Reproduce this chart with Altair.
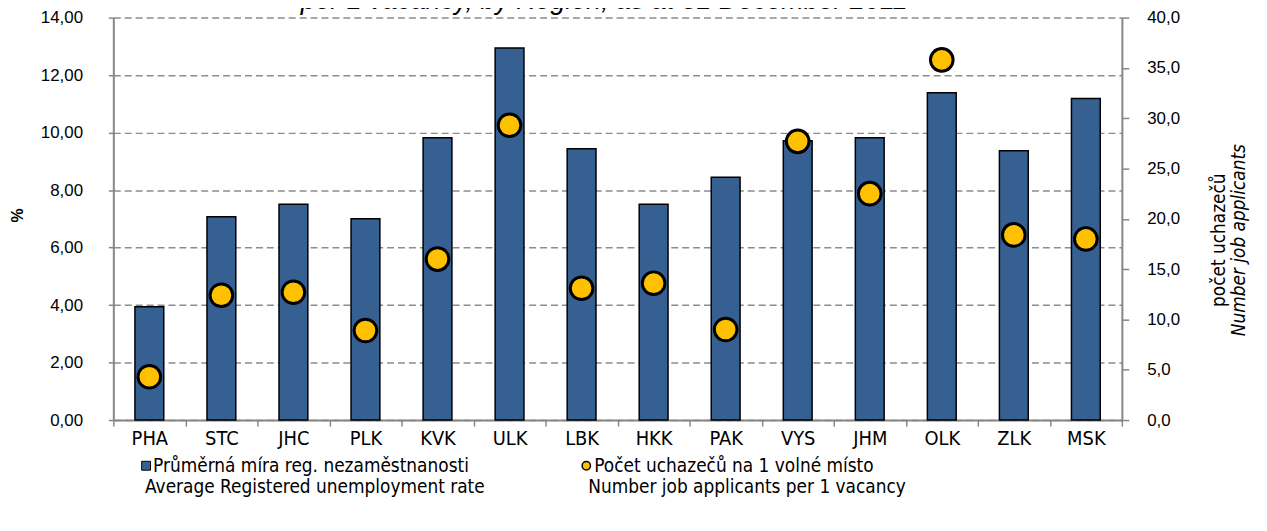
import altair as alt
import pandas as pd

# ---- data ----
regions = ["PHA", "STC", "JHC", "PLK", "KVK", "ULK", "LBK",
           "HKK", "PAK", "VYS", "JHM", "OLK", "ZLK", "MSK"]
unemployment_rate = [3.94, 7.07, 7.51, 7.00, 9.82, 12.94, 9.44,
                     7.51, 8.45, 9.72, 9.82, 11.39, 9.37, 11.19]
applicants_per_vacancy = [4.3, 12.4, 12.7, 8.9, 16.0, 29.3, 13.1,
                          13.6, 9.0, 27.7, 22.5, 35.8, 18.4, 18.0]

left_ticks = [0, 2, 4, 6, 8, 10, 12, 14]
right_ticks = [0, 5, 10, 15, 20, 25, 30, 35, 40]

title_text = ["per 1 vacancy, by Region, as at 31 December 2011"]
left_axis_title = ["%"]
right_title_cz = ["počet uchazečů"]
right_title_en = ["Number job applicants"]
legend_bar_cz = ["Průměrná míra reg. nezaměstnanosti"]
legend_bar_en = ["Average Registered unemployment rate"]
legend_dot_cz = ["Počet uchazečů na 1 volné místo"]
legend_dot_en = ["Number job applicants per 1 vacancy"]

df = pd.DataFrame({
    "region": regions,
    "rate": unemployment_rate,
    "applicants": applicants_per_vacancy,
})

BAR = "#376092"
DOT = "#FFC000"
GRAY = "#868686"
FONT = "Liberation Sans"
NARROW = "Liberation Sans Narrow, DejaVu Sans Condensed, Liberation Sans"

W, H = 1015, 405

x_axis = alt.Axis(title=None, labelAngle=0, tickBand="extent", domainColor=GRAY,
                  domainWidth=2, tickColor=GRAY, tickWidth=1.5, tickSize=6,
                  labelFont=NARROW, labelFontSize=20, labelColor="black",
                  labelPadding=3, grid=False)

bars = alt.Chart(df).mark_bar(
    color=BAR, stroke="black", strokeWidth=1.5, width=alt.RelativeBandSize(0.4)
).encode(
    x=alt.X("region:N", sort=regions,
            scale=alt.Scale(paddingInner=0, paddingOuter=0), axis=x_axis),
    y=alt.Y("rate:Q", scale=alt.Scale(domain=[0, 14], nice=False),
            axis=alt.Axis(orient="left", title=None, values=left_ticks,
                          labelExpr="replace(format(datum.value, '.2f'), '.', ',')",
                          labelFont=FONT, labelFontSize=17, labelColor="black",
                          labelPadding=26, tickSize=5, tickColor=GRAY, tickWidth=1.5,
                          domainColor=GRAY, domainWidth=2,
                          grid=True, gridColor="#8c8c8c", gridDash=[7, 4],
                          gridWidth=1.5)),
)

dots = alt.Chart(df).mark_circle(
    color=DOT, opacity=1, stroke="black", strokeWidth=3, size=520
).encode(
    x=alt.X("region:N", sort=regions),
    y=alt.Y("applicants:Q", scale=alt.Scale(domain=[0, 40], nice=False),
            axis=alt.Axis(orient="right", title=None, values=right_ticks,
                          labelExpr="replace(format(datum.value, '.1f'), '.', ',')",
                          labelFont=FONT, labelFontSize=17, labelColor="black",
                          labelPadding=18, tickSize=7, tickColor=GRAY, tickWidth=1.5,
                          domainColor=GRAY, domainWidth=2, grid=False)),
)


def text_layer(lines, x, y, **kw):
    d = pd.DataFrame({"t": lines})
    return alt.Chart(d).mark_text(**kw).encode(
        text="t:N", x=alt.value(x), y=alt.value(y))


title = text_layer(title_text, 494, -9, font=FONT, fontSize=27, fontStyle="italic",
                   align="center", baseline="alphabetic", color="black")
pct = text_layer(left_axis_title, -96, 199, font=FONT, fontSize=16, fontWeight="bold",
                 angle=270, align="center", baseline="middle", color="black")
rt1 = text_layer(right_title_cz, 1113, 224, font=NARROW, fontSize=19, angle=270,
                 align="center", baseline="middle", color="black")
rt2 = text_layer(right_title_en, 1133, 224, font=NARROW, fontSize=19, angle=270,
                 fontStyle="italic", align="center", baseline="middle", color="black")

leg_sq = alt.Chart(pd.DataFrame({"t": legend_bar_cz})).mark_square(
    color=BAR, opacity=1, stroke="black", strokeWidth=1, size=80
).encode(x=alt.value(33), y=alt.value(451))
leg_ci = alt.Chart(pd.DataFrame({"t": legend_dot_cz})).mark_circle(
    color=DOT, opacity=1, stroke="black", strokeWidth=1.5, size=70
).encode(x=alt.value(476), y=alt.value(451))

lb1 = text_layer(legend_bar_cz, 40, 451, font=NARROW, fontSize=19, align="left",
                 baseline="middle", color="black")
lb2 = text_layer(legend_bar_en, 32, 472, font=NARROW, fontSize=19, align="left",
                 baseline="middle", color="black")
ld1 = text_layer(legend_dot_cz, 484, 451, font=NARROW, fontSize=19, align="left",
                 baseline="middle", color="black")
ld2 = text_layer(legend_dot_en, 478, 472, font=NARROW, fontSize=19, align="left",
                 baseline="middle", color="black")

chart = alt.layer(
    bars, dots, title, pct, rt1, rt2, leg_sq, leg_ci, lb1, lb2, ld1, ld2
).resolve_scale(
    y="independent"
).properties(
    width=W, height=H,
    autosize=alt.AutoSizeParams(type="none"),
    padding={"left": 106, "top": 8, "right": 138, "bottom": 110},
).configure_view(stroke=None)

chart.save("out.html", embed_options={"renderer": "svg", "actions": False})
